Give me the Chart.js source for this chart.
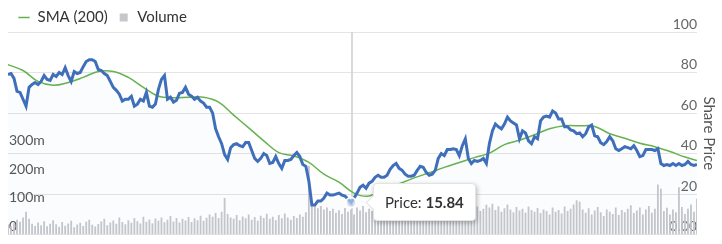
<!DOCTYPE html>
<html>
<head>
<meta charset="utf-8">
<script src="https://cdn.jsdelivr.net/npm/chart.js@4.4.1/dist/chart.umd.min.js"></script>
<style>
  html, body { margin: 0; padding: 0; background: #fff; }
  #wrap { position: relative; width: 722px; height: 244px; }
  #tip {
    position: absolute; display: none; pointer-events: none; white-space: nowrap;
    background: #fff; border: 1px solid #e3e3e3; border-radius: 4px;
    box-shadow: 1px 2px 5px rgba(0, 0, 0, 0.28);
    font: 15px Lato, sans-serif; color: #333; padding: 9px 11px; line-height: 18px;
  }
  #tip:before {
    content: ''; position: absolute; left: -6px; top: 13px; width: 10px; height: 10px;
    background: #fff; border-left: 1px solid #e3e3e3; border-bottom: 1px solid #e3e3e3;
    transform: rotate(45deg);
  }
</style>
</head>
<body>
<div id="wrap">
  <canvas id="chart" width="722" height="244"></canvas>
  <div id="tip"></div>
</div>
<script>
// share price, one value per trading day
const prices = [
  79.0, 79.5, 77.1, 70.7, 70.2, 66.8, 63.4, 72.7, 74.1, 75.1,
  74.1, 75.6, 78.5, 76.6, 76.1, 79.0, 78.0, 80.0, 79.0, 82.4,
  78.5, 75.6, 80.5, 79.5, 80.0, 82.9, 85.4, 86.3, 86.3, 85.4,
  81.5, 81.0, 79.5, 78.5, 75.6, 72.7, 71.2, 69.3, 65.9, 66.8,
  66.8, 68.3, 63.4, 64.4, 66.8, 65.9, 70.2, 63.4, 62.9, 64.4,
  71.7, 76.6, 78.5, 66.8, 67.8, 65.4, 66.3, 69.8, 70.2, 72.7,
  69.3, 68.3, 66.8, 67.8, 65.9, 64.9, 62.9, 62.9, 60.0, 52.2,
  48.3, 44.9, 39.5, 37.1, 42.9, 44.4, 44.9, 43.9, 43.4, 45.4,
  45.4, 41.5, 37.6, 36.1, 37.6, 40.0, 39.0, 35.1, 35.6, 38.5,
  35.1, 32.7, 36.6, 36.6, 37.1, 39.0, 40.5, 38.5, 34.6, 33.7,
  26.3, 14.6, 14.6, 16.6, 16.6, 18.0, 20.5, 19.5, 19.5, 20.0,
  20.5, 19.5, 19.0, 17.6, 15.84, 18.0, 20.5, 23.4, 24.4, 22.9,
  25.4, 26.3, 28.3, 29.3, 28.3, 28.3, 29.3, 32.2, 34.1, 35.1,
  32.7, 31.7, 29.8, 28.8, 28.8, 29.3, 31.7, 33.7, 33.2, 30.7,
  29.3, 29.8, 31.7, 37.6, 40.0, 39.0, 42.0, 42.0, 42.4, 42.0,
  39.0, 43.9, 47.3, 37.6, 35.1, 36.6, 36.1, 36.6, 37.6, 35.1,
  44.9, 51.2, 54.6, 53.2, 52.2, 54.6, 58.0, 56.1, 55.1, 54.1,
  47.3, 51.2, 50.2, 46.3, 44.9, 48.3, 47.3, 56.1, 58.0, 58.5,
  58.0, 61.0, 60.0, 57.1, 57.1, 53.2, 53.2, 51.7, 51.2, 49.8,
  50.2, 48.3, 49.8, 53.2, 54.1, 48.8, 48.3, 45.4, 44.4, 45.9,
  48.3, 46.3, 42.4, 41.5, 42.4, 43.4, 42.9, 42.4, 43.9, 41.5,
  38.5, 39.0, 42.0, 42.0, 42.0, 41.5, 42.4, 35.1, 34.1, 34.6,
  34.1, 35.1, 34.1, 35.1, 34.1, 34.6, 36.1, 34.6, 34.1, 34.6
];

// 200 day moving average, read every 5th day
const smaDays = [
  0, 5, 10, 15, 20, 25, 30, 35, 40, 45, 50, 55, 60, 65, 70, 75,
  80, 85, 90, 95, 100, 105, 110, 115, 120, 125, 130, 135, 140, 145, 150, 155,
  160, 165, 170, 175, 180, 185, 190, 195, 200, 205, 210, 215, 220, 225, 229
];
const smaValues = [
  83.9, 81.0, 75.6, 73.7, 75.1, 77.6, 80.5, 80.5, 77.6, 72.7, 68.3, 67.6, 67.8, 67.8, 65.4, 59.0,
  52.7, 46.3, 40.5, 38.8, 35.6, 29.8, 25.9, 20.5, 19.0, 22.9, 25.1, 28.0, 30.5, 33.2, 35.6, 38.0,
  40.2, 44.4, 46.6, 49.3, 52.2, 53.7, 53.7, 53.4, 49.8, 47.6, 45.1, 43.4, 41.0, 38.3, 36.6
];

// volume in millions
const volumes = [
  35, 28, 40, 52, 45, 60, 80, 55, 38, 30,
  42, 33, 47, 29, 38, 50, 36, 27, 44, 31,
  39, 48, 26, 35, 41, 30, 45, 52, 34, 28,
  37, 46, 55, 33, 42, 49, 38, 60, 44, 36,
  50, 41, 58, 47, 39, 62, 45, 53, 40, 56,
  48, 60, 43, 52, 65, 46, 58, 42, 55, 49,
  61, 44, 57, 50, 66, 48, 59, 70, 62, 75,
  58, 80, 128, 72, 60, 55, 68, 50, 63, 57,
  70, 52, 61, 48, 66, 58, 73, 55, 62, 50,
  68, 57, 74, 60, 52, 65, 58, 70, 62, 78,
  240, 105, 98, 92, 100, 88, 95, 82, 90, 76,
  85, 72, 93, 80, 88, 70, 95, 84, 100, 78,
  90, 82, 96, 74, 88, 102, 79, 92, 85, 70,
  86, 95, 78, 90, 72, 84, 98, 80, 92, 75,
  88, 70, 96, 83, 90, 77, 100, 85, 72, 94,
  80, 88, 110, 92, 76, 85, 98, 82, 90, 104,
  95, 108, 86, 99, 80, 92, 105, 88, 78, 96,
  84, 90, 76, 98, 86, 80, 93, 75, 88, 82,
  70, 95, 80, 86, 74, 98, 82, 90, 105, 120,
  115, 88, 76, 92, 70, 84, 96, 78, 65, 88,
  80, 72, 95, 68, 86, 78, 90, 102, 75, 84,
  95, 70, 88, 100, 76, 90, 175, 160, 82, 94,
  70, 88, 78, 165, 96, 72, 90, 105, 80, 125
];

const priceTicks = [0, 20, 40, 60, 80, 100];
const volumeTicks = [0, 100, 200, 300];
const activeDay = 114;

const font = 'Lato, "Open Sans", sans-serif';

// html tooltip so the value can be bold
function drawTip(context) {
  const tip = document.getElementById('tip');
  const t = context.tooltip;
  if (t.opacity === 0 || !t.dataPoints || !t.dataPoints.length) {
    tip.style.display = 'none';
    return;
  }
  const p = t.dataPoints[0];
  tip.innerHTML = p.dataset.label + ': <b>' + p.parsed.y.toFixed(2) + '</b>';
  tip.style.display = 'block';
  tip.style.left = (t.caretX + 22) + 'px';
  tip.style.top = (t.caretY - 20) + 'px';
}

// vertical line at hovered day
const crosshair = {
  id: 'crosshair',
  beforeDatasetsDraw(chart) {
    const act = chart.tooltip.getActiveElements();
    if (!act.length) return;
    const ctx = chart.ctx;
    const x = act[0].element.x + 1;
    ctx.save();
    ctx.strokeStyle = '#cdcdcd';
    ctx.lineWidth = 1.5;
    ctx.beginPath();
    ctx.moveTo(x, chart.chartArea.top);
    ctx.lineTo(x, chart.chartArea.bottom);
    ctx.stroke();
    ctx.restore();
  }
};

const chart = new Chart(document.getElementById('chart'), {
  data: {
    datasets: [{
      type: 'line',
      label: 'Price',
      yAxisID: 'price',
      order: 0,
      data: prices.map((p, i) => ({ x: i, y: p })),
      borderColor: '#3f6fba',
      borderWidth: 3,
      pointRadius: 0,
      pointHoverRadius: 5,
      pointHoverBackgroundColor: 'rgba(185,205,238,0.7)',
      pointHoverBorderColor: 'rgba(255,255,255,0.9)',
      pointHoverBorderWidth: 2,
      fill: 'origin',
      backgroundColor: 'rgba(70,110,190,0.022)'
    }, {
      type: 'line',
      label: 'SMA (200)',
      yAxisID: 'price',
      order: 1,
      data: smaDays.map((d, i) => ({ x: d, y: smaValues[i] })),
      borderColor: '#66b34e',
      backgroundColor: '#66b34e',
      borderWidth: 1.5,
      pointRadius: 0,
      pointHoverRadius: 0,
      pointStyle: 'line',
      tension: 0.4,
      fill: false
    }, {
      type: 'bar',
      label: 'Volume',
      yAxisID: 'vol',
      order: 2,
      data: volumes.map((v, i) => ({ x: i, y: v })),
      backgroundColor: '#c6c7cb',
      pointStyle: 'rect',
      barPercentage: 0.6,
      categoryPercentage: 1
    }]
  },
  options: {
    responsive: false,
    animation: false,
    devicePixelRatio: 1,
    layout: { padding: { left: 8, right: 0, top: 0, bottom: 7 } },
    interaction: { mode: 'nearest', axis: 'x', intersect: false },
    scales: {
      x: { type: 'linear', display: false, min: 0, max: prices.length - 1, offset: false },
      vol: {
        position: 'left',
        min: 0,
        max: 707,
        grid: { display: false },
        border: { display: false },
        afterBuildTicks: s => { s.ticks = volumeTicks.map(v => ({ value: v })); },
        afterFit: s => { s.width = 0; },
        ticks: {
          mirror: true, padding: 1, labelOffset: -8, color: '#555',
          font: { family: font, size: 14 },
          callback: v => v === 0 ? '0' : v + 'm'
        }
      },
      price: {
        position: 'right',
        min: 0,
        max: 100,
        grid: { color: '#e4e4e4', drawTicks: false },
        border: { display: false },
        afterBuildTicks: s => { s.ticks = priceTicks.map(v => ({ value: v })); },
        afterFit: s => { s.width = 25; },
        ticks: {
          mirror: true, padding: 0, labelOffset: -8, color: '#666',
          font: { family: font, size: 14 },
          callback: v => v === 0 ? '0.00' : v
        },
        title: {
          display: true, text: 'Share Price', color: '#555',
          font: { family: font, size: 15 },
          padding: { top: 4, bottom: 0 }
        }
      }
    },
    plugins: {
      legend: {
        position: 'top',
        align: 'start',
        maxHeight: 32,
        labels: {
          usePointStyle: true,
          boxWidth: 12,
          boxHeight: 8,
          padding: 10,
          color: '#333',
          font: { family: font, size: 15 },
          filter: item => item.datasetIndex !== 0
        }
      },
      tooltip: {
        enabled: false,
        external: drawTip,
        filter: item => item.datasetIndex === 0
      }
    }
  },
  plugins: [crosshair]
});

const pt = chart.getDatasetMeta(0).data[activeDay];
chart.setActiveElements([{ datasetIndex: 0, index: activeDay }]);
chart.tooltip.setActiveElements([{ datasetIndex: 0, index: activeDay }], { x: pt.x, y: pt.y });
chart.update();
</script>
</body>
</html>
